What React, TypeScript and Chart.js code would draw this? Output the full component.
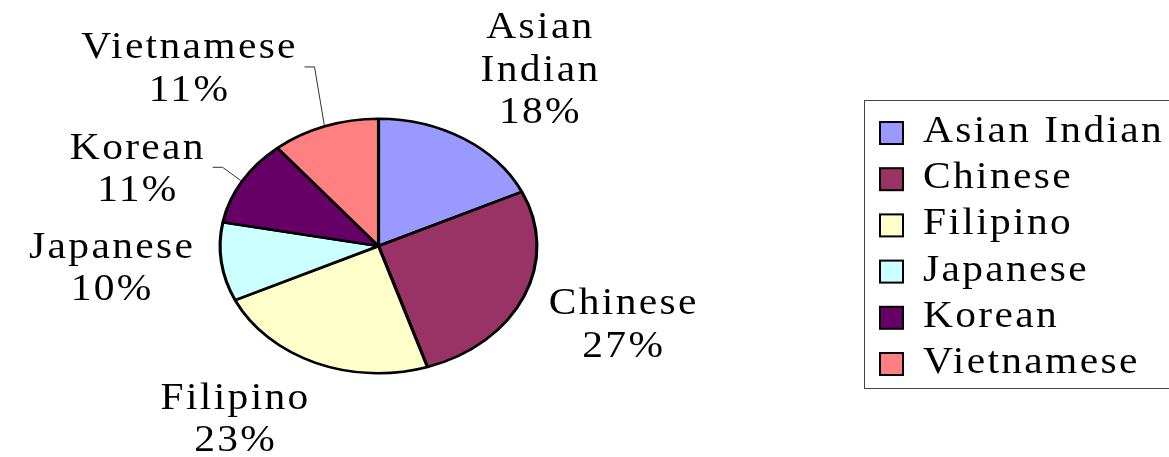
import React, { useEffect, useRef } from 'react';
import { Chart, registerables } from 'chart.js';

Chart.register(...registerables);

// ---- data ----
const categories = ['Asian Indian', 'Chinese', 'Filipino', 'Japanese', 'Korean', 'Vietnamese'];
const shares = [18, 27, 23, 10, 11, 11];
const sliceColors = ['#9999FF', '#993366', '#FFFFCC', '#CCFFFF', '#660066', '#FF8080'];

// ---- layout / style ----
const W = 1169;
const H = 457;
const STRETCH = 1.245; // horizontal stretch of the pie (ellipse)
const TEXT_STRETCH = 1.12;
const LETTER_SPACING = 2.1;
const FONT = '37px "Liberation Serif"';
const CAP = 25;
const LINE_H = 42.5;
const BORDER = 2.5;

// label placement relative to each slice's mid angle (degrees) and distance (in radii)
const labelPlacement = [
  { dAng: 3.6, k: 1.71, leader: false },
  { dAng: -1.9, k: 1.64, leader: false },
  { dAng: 10.6, k: 1.61, leader: false },
  { dAng: 1.7, k: 1.68, leader: false },
  { dAng: -8.6, k: 1.63, leader: true },
  { dAng: -20.7, k: 1.83, leader: true },
];

const LEGEND = {
  left: 864.5,
  top: 100.5,
  bottom: 388.5,
  markerX: 880,
  markerSize: 23,
  textX: 923,
  firstBaseline: 142,
  rowGap: 46.2,
};

function textWidth(ctx: CanvasRenderingContext2D, text: string) {
  ctx.save();
  (ctx as any).letterSpacing = LETTER_SPACING + 'px';
  const w = (ctx.measureText(text).width - LETTER_SPACING) * TEXT_STRETCH;
  ctx.restore();
  return w;
}

function drawStretchedText(ctx: CanvasRenderingContext2D, text: string, x: number, y: number, align: 'left' | 'center') {
  const w = textWidth(ctx, text);
  const startX = align === 'center' ? x - w / 2 : x;
  ctx.save();
  (ctx as any).letterSpacing = LETTER_SPACING + 'px';
  ctx.translate(startX, y);
  ctx.scale(TEXT_STRETCH, 1);
  ctx.textAlign = 'left';
  ctx.textBaseline = 'alphabetic';
  ctx.fillText(text, 0, 0);
  ctx.restore();
}

const stretchPlugin = {
  id: 'ellipseStretch',
  beforeDatasetsDraw(chart: any) {
    const a = chart.chartArea;
    const cx = (a.left + a.right) / 2;
    const cy = (a.top + a.bottom) / 2;
    const ctx = chart.ctx;
    ctx.save();
    ctx.translate(cx, cy);
    ctx.scale(STRETCH, 1);
    ctx.translate(-cx, -cy);
  },
  afterDatasetsDraw(chart: any) {
    chart.ctx.restore();
  },
};

const labelPlugin = {
  id: 'outsideLabels',
  afterDraw(chart: any) {
    const ctx: CanvasRenderingContext2D = chart.ctx;
    const meta = chart.getDatasetMeta(0);
    const data: number[] = chart.data.datasets[0].data;
    const total = data.reduce((s, v) => s + v, 0);
    ctx.save();
    ctx.font = FONT;
    ctx.fillStyle = '#000';
    meta.data.forEach((arc: any, i: number) => {
      const p = labelPlacement[i];
      const ry = arc.outerRadius + BORDER / 2;
      const rx = ry * STRETCH;
      const cx = arc.x;
      const cy = arc.y;
      const mid = (arc.startAngle + arc.endAngle) / 2;
      const ang = mid + (p.dAng * Math.PI) / 180;
      const bx = cx + p.k * rx * Math.cos(ang);
      const by = cy + p.k * ry * Math.sin(ang);
      const name: string = chart.data.labels[i];
      const lines = name.split(' ');
      lines.push(Math.round((data[i] / total) * 100) + '%');
      const blockH = (lines.length - 1) * LINE_H + CAP;
      const firstBase = by - blockH / 2 + CAP;
      lines.forEach((ln, j) => drawStretchedText(ctx, ln, bx, firstBase + j * LINE_H, 'center'));
      if (p.leader) {
        const tw = textWidth(ctx, lines[0]);
        const right = bx + tw / 2;
        const ex = cx + rx * Math.cos(mid);
        const ey = cy + ry * Math.sin(mid);
        const ly = firstBase + 8.5;
        ctx.save();
        ctx.strokeStyle = '#333';
        ctx.lineWidth = 1;
        ctx.beginPath();
        ctx.moveTo(ex, ey);
        ctx.lineTo(right + 19, ly);
        ctx.lineTo(right + 9, ly);
        ctx.stroke();
        ctx.restore();
      }
    });
    ctx.restore();
  },
};

const legendPlugin = {
  id: 'boxLegend',
  afterDraw(chart: any) {
    const ctx: CanvasRenderingContext2D = chart.ctx;
    const ds = chart.data.datasets[0];
    ctx.save();
    ctx.strokeStyle = '#444';
    ctx.lineWidth = 1;
    ctx.strokeRect(LEGEND.left, LEGEND.top, W - LEGEND.left + 20, LEGEND.bottom - LEGEND.top);
    ctx.font = FONT;
    chart.data.labels.forEach((lab: string, i: number) => {
      const base = LEGEND.firstBaseline + i * LEGEND.rowGap;
      const top = base - 20;
      ctx.fillStyle = ds.backgroundColor[i];
      ctx.fillRect(LEGEND.markerX, top, LEGEND.markerSize, LEGEND.markerSize - 1);
      ctx.strokeStyle = '#000';
      ctx.lineWidth = 2;
      ctx.strokeRect(LEGEND.markerX, top, LEGEND.markerSize, LEGEND.markerSize - 1);
      ctx.fillStyle = '#000';
      drawStretchedText(ctx, lab, LEGEND.textX, base, 'left');
    });
    ctx.restore();
  },
};

export default function App() {
  const ref = useRef<HTMLCanvasElement>(null);
  useEffect(() => {
    const canvas = ref.current;
    if (!canvas) return;
    const chart = new Chart(canvas, {
      type: 'pie',
      data: {
        labels: categories,
        datasets: [
          {
            data: shares,
            backgroundColor: sliceColors,
            borderColor: '#000',
            borderWidth: BORDER,
            hoverBorderWidth: BORDER,
            clip: false,
          } as any,
        ],
      },
      options: {
        responsive: false,
        animation: false,
        devicePixelRatio: 1,
        events: [],
        layout: { padding: { top: 117.5, bottom: 82.5, left: 178.5, right: 590.5 } },
        plugins: {
          legend: { display: false },
          tooltip: { enabled: false },
          title: { display: false },
        },
      },
      plugins: [stretchPlugin, labelPlugin, legendPlugin],
    });
    return () => chart.destroy();
  }, []);
  return (
    <div style={{ position: 'absolute', left: 0, top: 0, width: W, height: H, background: '#fff' }}>
      <canvas ref={ref} width={W} height={H} style={{ width: W, height: H, display: 'block' }} />
    </div>
  );
}
